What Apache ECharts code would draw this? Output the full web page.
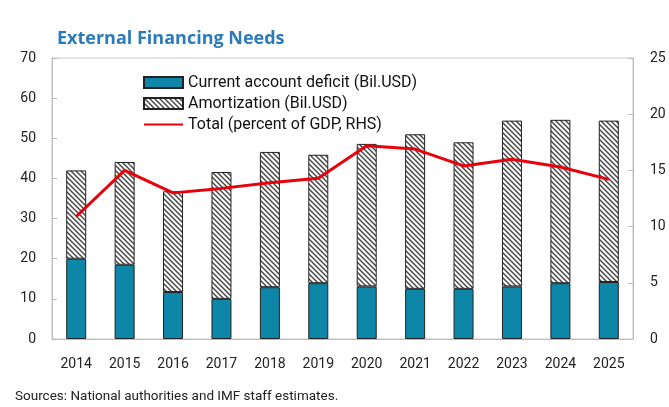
<!DOCTYPE html>
<html>
<head>
<meta charset="utf-8">
<script src="https://cdn.jsdelivr.net/npm/echarts@6/dist/echarts.min.js"></script>
<style>
  html, body { margin: 0; padding: 0; background: #fff; }
  #chart { width: 669px; height: 407px; }
</style>
</head>
<body>
<div id="chart"></div>
<script>
// data
const years = ['2014', '2015', '2016', '2017', '2018', '2019', '2020', '2021', '2022', '2023', '2024', '2025']
const currentAccount = [20.0, 18.5, 11.7, 10.0, 12.9, 13.9, 13.1, 12.5, 12.5, 13.1, 13.9, 14.2]
const totalBars = [42.0, 44.1, 36.8, 41.6, 46.6, 45.9, 48.6, 51.0, 49.0, 54.4, 54.6, 54.4]
const amortization = totalBars.map((t, i) => +(t - currentAccount[i]).toFixed(1))
const totalPctGdp = [10.9, 15.0, 13.0, 13.4, 13.9, 14.3, 17.2, 16.9, 15.4, 16.0, 15.3, 14.2]

const font = 'Roboto, "Noto Sans", sans-serif'

// diagonal hatch for the amortization bars
function hatch() {
    let s = 5
    let c = document.createElement('canvas')
    c.width = s
    c.height = s
    let ctx = c.getContext('2d')
    ctx.fillStyle = '#fff'
    ctx.fillRect(0, 0, s, s)
    ctx.strokeStyle = '#444'
    ctx.lineWidth = 1.4
    for (let k = -s; k <= s; k += s) {
        ctx.beginPath()
        ctx.moveTo(k - 1, -1)
        ctx.lineTo(k + s + 1, s + 1)
        ctx.stroke()
    }
    return { image: c, repeat: 'repeat' }
}

let chart = echarts.init(document.getElementById('chart'))
let option = {
    animation: false,
    textStyle: { fontFamily: font },
    title: {
        text: 'External Financing Needs',
        left: 57,
        top: 30,
        padding: 0,
        textStyle: { fontFamily: '"Open Sans", sans-serif', fontSize: 18, fontWeight: 'bold', color: '#2B7BB8' }
    },
    graphic: [{
        type: 'text',
        left: 15,
        top: 390,
        style: { text: 'Sources: National authorities and IMF staff estimates.', font: '13.5px ' + font, fill: '#222' }
    }],
    legend: {
        orient: 'vertical',
        left: 143,
        top: 74,
        padding: 0,
        itemWidth: 39,
        itemHeight: 11,
        itemGap: 4,
        textStyle: { fontSize: 16, lineHeight: 17, color: '#111' },
        data: [
            { name: 'Current account deficit (Bil.USD)', icon: 'rect' },
            { name: 'Amortization (Bil.USD)', icon: 'rect' },
            { name: 'Total (percent of GDP, RHS)', itemStyle: { opacity: 0 } }
        ]
    },
    grid: {
        left: 52,
        right: 36,
        top: 58,
        bottom: 68,
        show: true,
        borderColor: '#c8c8c8',
        borderWidth: 1
    },
    xAxis: {
        type: 'category',
        data: years,
        axisLine: { lineStyle: { color: '#bbb' } },
        axisTick: { inside: true, length: 5, lineStyle: { color: '#bbb' } },
        axisLabel: { fontSize: 14, color: '#222', margin: 18 }
    },
    yAxis: [{
        type: 'value',
        min: 0,
        max: 70,
        interval: 10,
        axisLine: { show: true, lineStyle: { color: '#bbb' } },
        axisTick: { show: true, inside: true, length: 5, lineStyle: { color: '#bbb' } },
        axisLabel: { fontSize: 14, color: '#222', margin: 16 },
        splitLine: { show: false }
    }, {
        type: 'value',
        min: 0,
        max: 25,
        interval: 5,
        axisLine: { show: true, lineStyle: { color: '#bbb' } },
        axisTick: { show: true, inside: true, length: 5, lineStyle: { color: '#bbb' } },
        axisLabel: { fontSize: 14, color: '#222', margin: 17 },
        splitLine: { show: false }
    }],
    series: [{
        name: 'Current account deficit (Bil.USD)',
        type: 'bar',
        stack: 'efn',
        barWidth: 20,
        data: currentAccount,
        itemStyle: { color: '#0E86A8', borderColor: '#222', borderWidth: 1 }
    }, {
        name: 'Amortization (Bil.USD)',
        type: 'bar',
        stack: 'efn',
        barWidth: 20,
        data: amortization,
        itemStyle: { color: hatch(), borderColor: '#222', borderWidth: 1 }
    }, {
        name: 'Total (percent of GDP, RHS)',
        type: 'line',
        yAxisIndex: 1,
        data: totalPctGdp,
        symbol: 'none',
        lineStyle: { color: '#E8000B', width: 3 },
        itemStyle: { color: '#E8000B' }
    }]
}
chart.setOption(option)
</script>
</body>
</html>
